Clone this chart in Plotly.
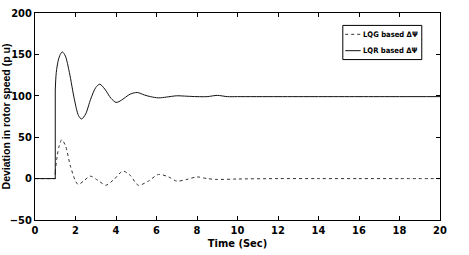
import plotly.graph_objects as go

# LQR based response
t_lqr = [0, 1.0, 1.0, 1.05, 1.15, 1.25, 1.35, 1.5, 1.7, 1.95, 2.15, 2.3, 2.5, 2.75, 3.0, 3.2, 3.45, 3.75, 4.0, 4.15, 4.4, 4.7, 5.05, 5.4, 5.7, 6.1, 6.5, 7.0, 7.5, 8.0, 8.5, 9.0, 9.5, 10, 12, 14, 16, 18, 20]
v_lqr = [0, 0, 107, 128, 143, 150, 153, 148, 128, 95, 76, 72, 78, 96, 110, 114, 108, 97, 92, 93, 97, 102, 104, 101, 99, 97.5, 98.5, 100, 99.5, 99, 99, 100.5, 99, 99, 99, 99, 99, 99, 99]

# LQG based response
t_lqg = [0, 1.0, 1.0, 1.1, 1.2, 1.32, 1.5, 1.75, 2.0, 2.13, 2.4, 2.72, 3.1, 3.5, 3.9, 4.34, 4.7, 5.1, 5.6, 6.1, 6.6, 7.0, 7.5, 8.0, 8.5, 9.0, 10, 12, 14, 16, 18, 20]
v_lqg = [0, 0, 8, 28, 40, 47, 40, 15, -3, -7, -3, 3, -2, -8, -1, 9, 4, -8, -3, 5, 2, -3, -1, 2, 0, -1, -0.5, 0, 0, 0, 0, 0]

x_ticks = [0, 2, 4, 6, 8, 10, 12, 14, 16, 18, 20]
y_ticks = [-50, 0, 50, 100, 150, 200]

names = ["LQG based \u0394\u03a8", "LQR based \u0394\u03a8"]
STEP = 3  # first three samples: flat part and the jump at t = 1

fig = go.Figure()
lqg_line = dict(color="#333333", width=1, dash="dot")
lqr_line = dict(color="#111111", width=1)
fig.add_trace(go.Scatter(x=t_lqg[:STEP], y=v_lqg[:STEP], mode="lines", line=lqg_line, showlegend=False))
fig.add_trace(go.Scatter(x=t_lqg[STEP - 1:], y=v_lqg[STEP - 1:], mode="lines",
                         line=dict(**lqg_line, shape="spline", smoothing=0.8), showlegend=False))
fig.add_trace(go.Scatter(x=t_lqr[:STEP], y=v_lqr[:STEP], mode="lines", line=lqr_line, showlegend=False))
fig.add_trace(go.Scatter(x=t_lqr[STEP - 1:], y=v_lqr[STEP - 1:], mode="lines",
                         line=dict(**lqr_line, shape="spline", smoothing=0.8), showlegend=False))

FONT = "DejaVu Sans Condensed, Liberation Sans Narrow, Liberation Sans"
tick_font = dict(family=FONT, size=11, color="black", weight="bold")
axis_common = dict(showgrid=False, zeroline=False, showline=True, linecolor="black", linewidth=1,
                   mirror="ticks", ticks="inside", ticklen=4, tickcolor="black", tickfont=tick_font,
                   automargin=False)

# custom legend box (paper coordinates)
L = dict(x0=0.760, x1=0.955, y0=0.775, y1=0.94)
shapes = [dict(type="rect", xref="paper", yref="paper", x0=L["x0"], x1=L["x1"], y0=L["y0"], y1=L["y1"],
               line=dict(color="black", width=1), fillcolor="white", layer="above")]
annotations = []
rows = [(0.897, lqg_line), (0.818, lqr_line)]
for (yy, ln), nm in zip(rows, names):
    shapes.append(dict(type="line", xref="paper", yref="paper", x0=L["x0"] + 0.006, x1=L["x0"] + 0.044,
                       y0=yy, y1=yy, line=ln, layer="above"))
    annotations.append(dict(text=nm, xref="paper", yref="paper", x=L["x0"] + 0.045, y=yy,
                            xanchor="left", yanchor="middle", showarrow=False,
                            font=dict(family=FONT, size=7.6, color="black", weight="bold")))

fig.update_layout(
    width=469, height=255,
    margin=dict(l=35, r=29, t=13, b=35),
    paper_bgcolor="white", plot_bgcolor="white",
    showlegend=False,
    shapes=shapes, annotations=annotations,
    xaxis=dict(range=[0, 20], tickvals=x_ticks,
               title=dict(text="Time (Sec)", standoff=0,
                          font=dict(family=FONT, size=11, color="black", weight="bold")),
               **axis_common),
    yaxis=dict(range=[-50, 200], tickvals=y_ticks,
               title=dict(text="Deviation in rotor speed (p u)", standoff=0,
                          font=dict(family="Liberation Sans", size=10.5, color="black", weight="bold")),
               **axis_common),
)

fig.write_html("out.html")
